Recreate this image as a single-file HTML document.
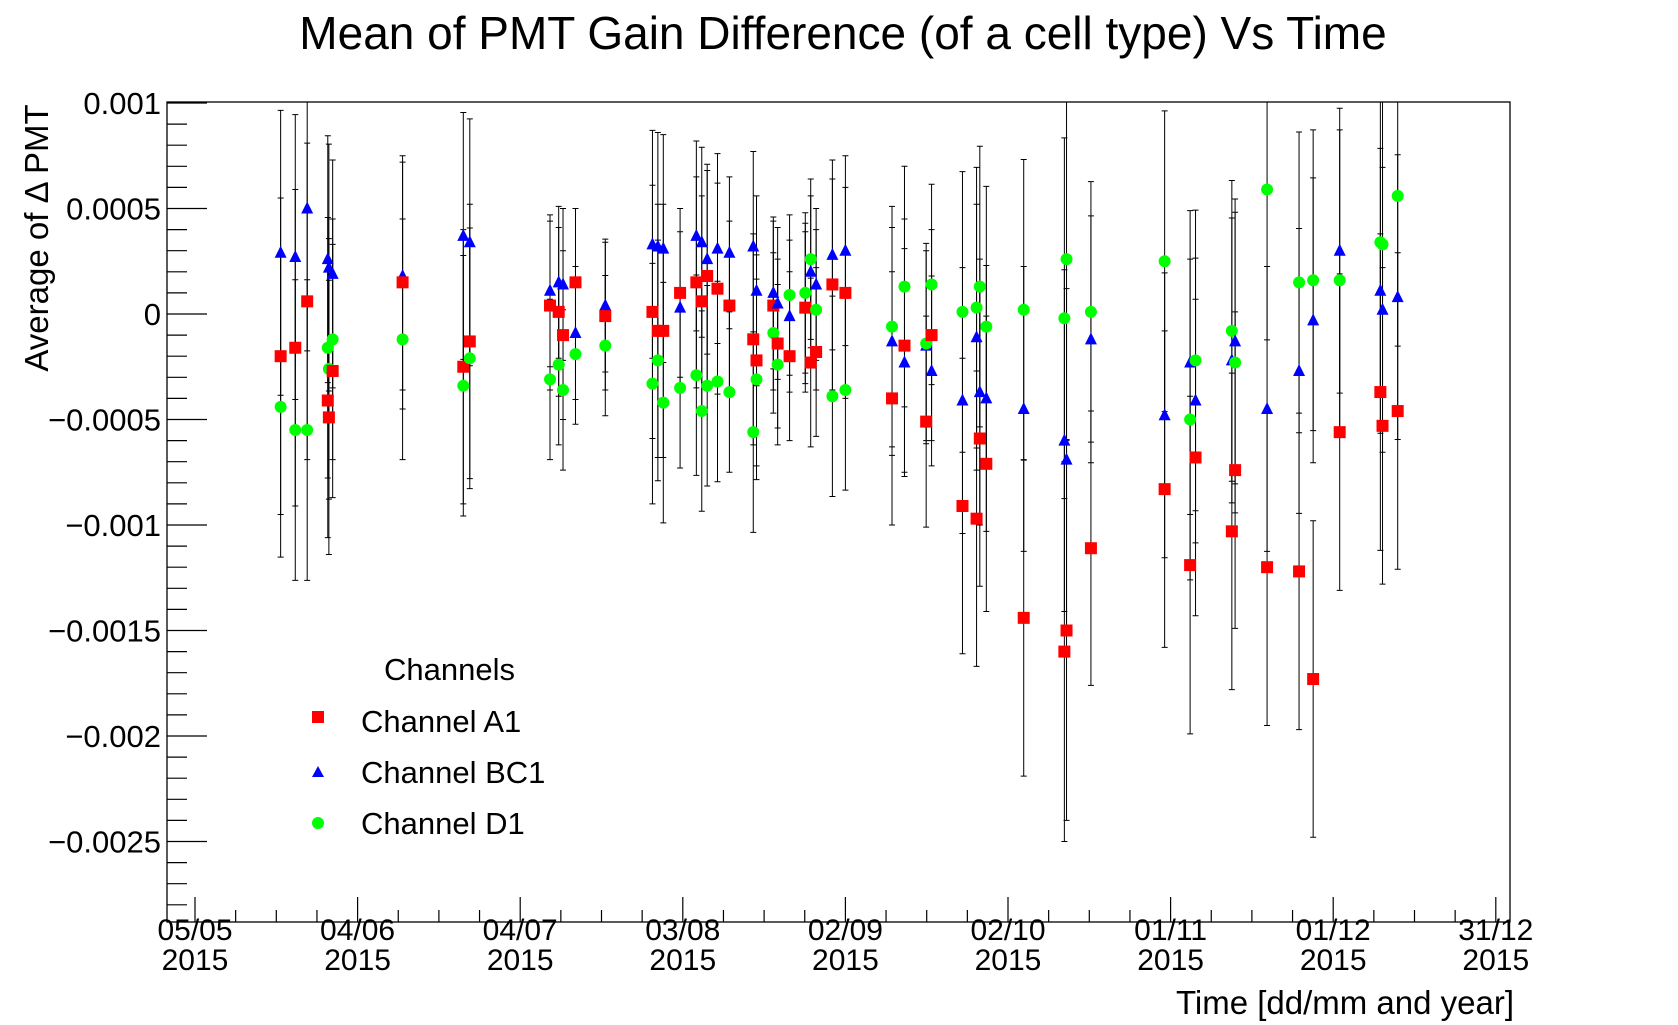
<!DOCTYPE html>
<html><head><meta charset="utf-8"><style>
html,body{margin:0;padding:0;background:#fff;}
svg{display:block;font-family:"Liberation Sans",sans-serif;}
</style></head><body>
<svg id="chart" width="1678" height="1025" viewBox="0 0 1678 1025">
<text x="843" y="49" font-size="46" text-anchor="middle">Mean of PMT Gain Difference (of a cell type) Vs Time</text>
<rect x="167" y="102" width="1343" height="820" fill="none" stroke="#000" stroke-width="1.3"/>
<g id="axes"></g>
<g id="marks"></g>
<text transform="translate(48,238) rotate(-90)" font-size="33" text-anchor="middle">Average of Δ PMT</text>
<text x="1514" y="1014" font-size="33" text-anchor="end">Time [dd/mm and year]</text>
<g>
<text x="384" y="680" font-size="31">Channels</text>
<rect x="312" y="711" width="12" height="12" fill="#f00"/>
<text x="361" y="732" font-size="31">Channel A1</text>
<polygon points="318,766 312,777 324,777" fill="#00f"/>
<text x="361" y="783" font-size="31">Channel BC1</text>
<circle cx="318" cy="823" r="6" fill="#0f0"/>
<text x="361" y="834" font-size="31">Channel D1</text>
</g>
</svg>
<script>
// days since 05/05/2015
const days = [15.8,18.5,20.7,24.5,24.7,25.4,38.3,49.5,50.7,65.5,67.1,67.9,70.2,75.7,84.4,85.4,86.4,89.5,92.5,93.5,94.5,96.4,98.6,103,103.6,106.7,107.5,109.7,112.6,113.6,114.6,117.6,120,128.6,130.9,134.9,135.9,141.6,144.2,144.8,146,152.9,160.4,160.8,165.3,178.9,183.6,184.6,191.3,191.9,197.8,203.7,206.3,211.2,218.7,219.1,221.9];
// values in units of 1e-4
const chanA1 = [-2.0,-1.6,0.6,-4.1,-4.9,-2.7,1.5,-2.5,-1.3,0.4,0.1,-1.0,1.5,-0.1,0.1,-0.8,-0.8,1.0,1.5,0.6,1.8,1.2,0.4,-1.2,-2.2,0.4,-1.4,-2.0,0.3,-2.3,-1.8,1.4,1.0,-4.0,-1.5,-5.1,-1.0,-9.1,-9.7,-5.9,-7.1,-14.4,-16.0,-15.0,-11.1,-8.3,-11.9,-6.8,-10.3,-7.4,-12.0,-12.2,-17.3,-5.6,-3.7,-5.3,-4.6];
const chanBC1 = [2.9,2.7,5.0,2.6,2.2,1.9,1.8,3.7,3.4,1.1,1.5,1.4,-0.9,0.4,3.3,3.2,3.1,0.3,3.7,3.4,2.6,3.1,2.9,3.2,1.1,1.0,0.5,-0.1,0.3,2.0,1.4,2.8,3.0,-1.3,-2.3,-1.5,-2.7,-4.1,-1.1,-3.7,-4.0,-4.5,-6.0,-6.9,-1.2,-4.8,-2.3,-4.1,-2.2,-1.3,-4.5,-2.7,-0.3,3.0,1.1,0.2,0.8];
const chanD1 = [-4.4,-5.5,-5.5,-1.6,-2.6,-1.2,-1.2,-3.4,-2.1,-3.1,-2.4,-3.6,-1.9,-1.5,-3.3,-2.2,-4.2,-3.5,-2.9,-4.6,-3.4,-3.2,-3.7,-5.6,-3.1,-0.9,-2.4,0.9,1.0,2.6,0.2,-3.9,-3.6,-0.6,1.3,-1.4,1.4,0.1,0.3,1.3,-0.6,0.2,-0.2,2.6,0.1,2.5,-5.0,-2.2,-0.8,-2.3,5.9,1.5,1.6,1.6,3.4,3.3,5.6];
const errs = [7.5,7.5,7.5,6.5,6.5,6,6,6.5,6.5,4,4,4,3.5,3.5,6,6,6,4,5,5,5,5,4,5,5,4,4,4,4,4,4,5,5,6,6,5,5,7,7,7,7,7.5,9,9,6.5,7.5,8,7.5,7.5,7.5,7.5,7.5,7.5,7.5,7.5,7.5,7.5];
const yTicks = [10,5,0,-5,-10,-15,-20,-25];
const yTickLabels = ["0.001","0.0005","0","\u22120.0005","\u22120.001","\u22120.0015","\u22120.002","\u22120.0025"];
const xTickDays = [0,30,60,90,120,150,180,210,240];
const xTickLabels = ["05/05","04/06","04/07","03/08","02/09","02/10","01/11","01/12","31/12"];

const NS="http://www.w3.org/2000/svg";
const L=167,R=1510,T=102,B=922;
function xs(d){return 195+d*5.42;}
function ys(v){return 314-v*21.1;}
function mk(tag,attrs,parent){const e=document.createElementNS(NS,tag);for(const k in attrs)e.setAttribute(k,attrs[k]);parent.appendChild(e);return e;}
const axes=document.getElementById('axes'), marks=document.getElementById('marks');
for(let v=10;v>=-28;v--){const y=ys(v);if(y>B||y<T-1)continue;const major=(v%5===0);
 const t=mk('line',{x1:L,x2:L+(major?40:20),y1:y,y2:y,stroke:'#000','stroke-width':1.2},axes);
 
 }
yTicks.forEach((v,i)=>{const t=mk('text',{x:L-6,y:ys(v)+11,'font-size':31,'text-anchor':'end'},axes);t.textContent=yTickLabels[i];
 
 });
for(let d=-7.5;d<=242;d+=7.5){const x=xs(d);if(x<L||x>R)continue;const major=(Math.abs(d%30)<0.01);
 const t=mk('line',{x1:x,x2:x,y1:B,y2:B-(major?25:12),stroke:'#000','stroke-width':1.2},axes);
 
 }
xTickDays.forEach((d,i)=>{const x=xs(d);
 const t=mk('text',{x:x,y:940,'font-size':30,'text-anchor':'middle'},axes);t.textContent=xTickLabels[i];
 
 
 const t2=mk('text',{x:x,y:970,'font-size':30,'text-anchor':'middle'},axes);t2.textContent='2015';
 
 });
function clampY(y){return Math.max(T,Math.min(B,y));}
function errbar(x,v,e){const y1=clampY(ys(v+e)),y2=clampY(ys(v-e));
 const g=mk('path',{d:`M${x},${y1}V${y2}M${x-3},${y1}H${x+3}M${x-3},${y2}H${x+3}`,stroke:'#000','stroke-width':1,fill:'none'},marks);
 
 }
days.forEach((d,i)=>{const x=xs(d);errbar(x,chanA1[i],errs[i]);errbar(x,chanBC1[i],errs[i]*0.9);errbar(x,chanD1[i],errs[i]*0.95);});
days.forEach((d,i)=>{const x=xs(d);
 let y=ys(chanBC1[i]);
 const p=mk('polygon',{points:`${x},${y-7} ${x-6},${y+5} ${x+6},${y+5}`,fill:'#00f'},marks);
 
 
 y=ys(chanA1[i]);
 const r=mk('rect',{x:x-6,y:y-6,width:12,height:12,fill:'#f00'},marks);
 
 
 y=ys(chanD1[i]);
 const c=mk('circle',{cx:x,cy:y,r:6,fill:'#0f0'},marks);
 
 });
</script>
</body></html>
